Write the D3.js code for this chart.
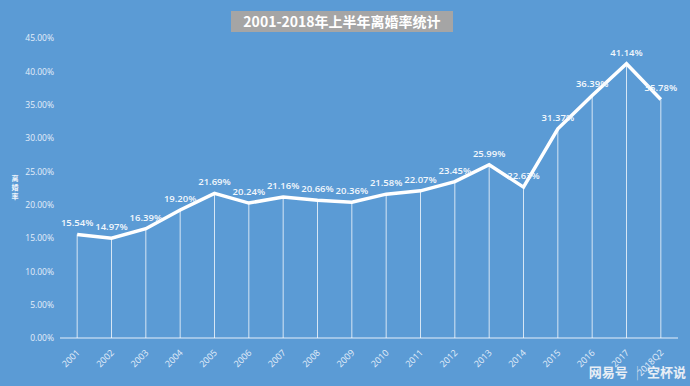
<!DOCTYPE html>
<html>
<head>
<meta charset="utf-8">
<script src="https://cdn.jsdelivr.net/npm/d3@7"></script>
<style>
  html, body { margin: 0; padding: 0; background: #5b9bd5; }
  svg { display: block; font-family: "Noto Sans CJK SC", "Open Sans", sans-serif; }
</style>
</head>
<body>
<svg id="chart" width="690" height="386"></svg>
<script>
const years = ["2001","2002","2003","2004","2005","2006","2007","2008","2009","2010",
  "2011","2012","2013","2014","2015","2016","2017","2018Q2"];
const rates = [15.54, 14.97, 16.39, 19.20, 21.69, 20.24, 21.16, 20.66, 20.36, 21.58,
  22.07, 23.45, 25.99, 22.63, 31.37, 36.39, 41.14, 35.78];
const yTicks = [0, 5, 10, 15, 20, 25, 30, 35, 40, 45];

const svg = d3.select("#chart");
const width = +svg.attr("width");
const height = +svg.attr("height");

svg.append("rect").attr("width", width).attr("height", height).attr("fill", "#5b9bd5");

const x = d3.scaleBand().domain(years).range([60, 678]).padding(0);
const cx = d => x(d) + x.bandwidth() / 2;
const y = d3.scaleLinear().domain([0, 45]).range([338, 38]);

// y axis labels
const yAxis = svg.append("g")
  .attr("transform", "translate(54,0)")
  .call(d3.axisLeft(y).tickValues(yTicks).tickSize(0).tickPadding(0)
    .tickFormat(d => d.toFixed(2) + "%"));
yAxis.select(".domain").remove();
yAxis.selectAll("text")
  .attr("fill", "#e4eefa")
  .style("font-size", "8.5px")
  .style("font-family", "Open Sans, sans-serif");

// y title, stacked characters
const yTitle = svg.append("text")
  .attr("fill", "#eef4fb")
  .style("font-size", "7px")
  .style("font-weight", 700);
["离", "婚", "率"].forEach((c, i) => {
  yTitle.append("tspan").attr("x", 15).attr("y", 181 + i * 9).attr("text-anchor", "middle").text(c);
});

// baseline
svg.append("line")
  .attr("x1", 60).attr("x2", 678)
  .attr("y1", y(0)).attr("y2", y(0))
  .attr("stroke", "#e6effa").attr("stroke-width", 1);

// drop lines
svg.append("g").selectAll("line")
  .data(years)
  .join("line")
  .attr("x1", d => cx(d)).attr("x2", d => cx(d))
  .attr("y1", (d, i) => y(rates[i])).attr("y2", y(0))
  .attr("stroke", "#ffffff").attr("stroke-opacity", 0.75).attr("stroke-width", 1);

// x labels
svg.append("g").selectAll("text")
  .data(years)
  .join("text")
  .attr("transform", d => `translate(${cx(d) + 1},${y(0) + 13}) rotate(-45)`)
  .attr("text-anchor", "end")
  .attr("dy", "0.35em")
  .attr("fill", "#e4eefa")
  .style("font-size", "9px")
  .style("font-family", "Open Sans, sans-serif")
  .text(d => d);

// line
const line = d3.line().x((d, i) => cx(years[i])).y(d => y(d));
svg.append("path")
  .datum(rates)
  .attr("d", line)
  .attr("fill", "none")
  .attr("stroke", "#ffffff")
  .attr("stroke-width", 3.5)
  .attr("stroke-linejoin", "miter");

// data labels
svg.append("g").selectAll("text")
  .data(rates)
  .join("text")
  .attr("x", (d, i) => cx(years[i]))
  .attr("y", d => y(d) - 8)
  .attr("text-anchor", "middle")
  .attr("fill", "#f2f7fc")
  .style("font-size", "9.5px")
  .style("font-weight", 600)
  .style("font-family", "Open Sans, sans-serif")
  .text(d => d.toFixed(2) + "%");

// title
const titleG = svg.append("g");
titleG.append("rect")
  .attr("x", 231).attr("y", 11).attr("width", 222).attr("height", 21)
  .attr("fill", "#a5a5a5");
titleG.append("text")
  .attr("x", 342).attr("y", 27)
  .attr("text-anchor", "middle")
  .attr("fill", "#ffffff")
  .style("font-size", "14px")
  .style("font-weight", 700)
  .text("2001-2018年上半年离婚率统计");

// watermark
const wm = svg.append("text")
  .attr("x", 686).attr("y", 377)
  .attr("text-anchor", "end")
  .attr("fill", "#e8eef5")
  .style("font-size", "13px")
  .style("font-weight", 700);
wm.append("tspan").text("网易号");
wm.append("tspan").attr("dx", 8).attr("fill", "#c9d6e4").attr("font-weight", 300).text("|");
wm.append("tspan").attr("dx", 8).text("空杯说");
</script>
</body>
</html>
